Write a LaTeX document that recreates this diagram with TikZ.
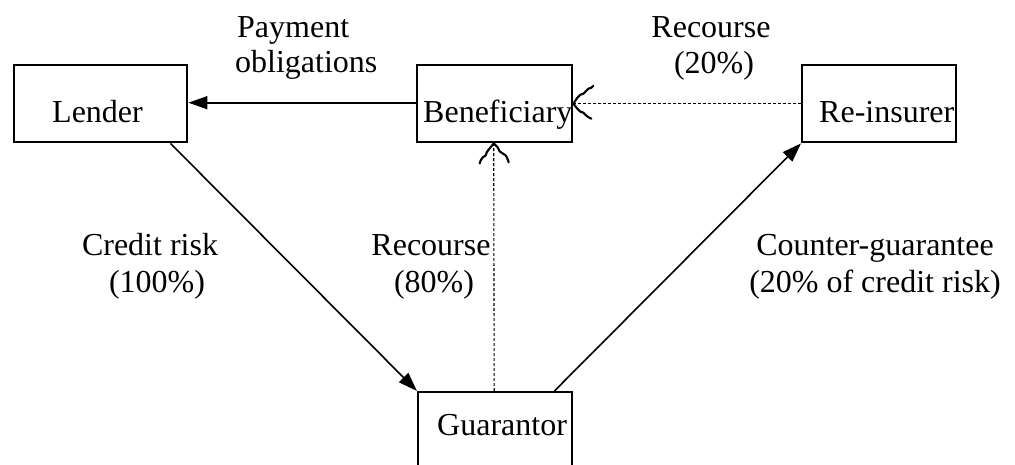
\documentclass[tikz,border=0pt]{standalone}
\usepackage{fontspec}
\setmainfont{Liberation Serif}
\usetikzlibrary{arrows.meta,calc}
\begin{document}
\begin{tikzpicture}[x=1pt,y=-1pt,
  box/.style={draw,line width=2.4pt,inner sep=0pt,minimum width=#1,minimum height=77pt},
  txt/.style={font=\fontsize{32pt}{36pt}\selectfont,inner sep=0pt},
  solidarrow/.style={line width=1.6pt,-{Triangle[length=19pt,width=13pt]}},
  dotline/.style={line width=1.1pt,dash pattern=on 3pt off 2pt},
  wavy/.style={line width=2.1pt,line cap=round,line join=round}]
\clip (0,0) rectangle (1015,464);
\useasboundingbox (0,0) rectangle (1015,464);
% box texts
\node[txt,anchor=base west] (tlender) at (52,122) {Lender};
\node[txt,anchor=base west] (tben) at (423,122) {Beneficiary};
\node[txt,anchor=base west] (trein) at (819,122) {Re-insurer};
\node[txt,anchor=base west] (tguar) at (437,435) {Guarantor};
% boxes
\node[box=173pt,anchor=north west] (lender) at (13,64) {};
\node[box=155pt,anchor=north west] (ben) at (416,64) {};
\node[box=154pt,anchor=north west] (rein) at (801,64) {};
\node[box=154pt,anchor=north west] (guar) at (417,391) {};
% labels
\node[txt,anchor=base west] (l1a) at (237,37) {Payment};
\node[txt,anchor=base west] (l1b) at (235,72) {obligations};
\node[txt,anchor=base] (l2a) at (711,37) {Recourse};
\node[txt,anchor=base] (l2b) at (714,73) {(20\%)};
\node[txt,anchor=base] (l3a) at (150,255) {Credit risk};
\node[txt,anchor=base] (l3b) at (157,292) {(100\%)};
\node[txt,anchor=base] (l4a) at (431,255) {Recourse};
\node[txt,anchor=base] (l4b) at (434,292) {(80\%)};
\node[txt,anchor=base] (l5a) at (875,255) {Counter-guarantee};
\node[txt,anchor=base] (l5b) at (875,292) {(20\% of credit risk)};
% connectors
\draw[solidarrow] ($(ben.west)+(0,-1)$) -- ($(lender.east)+(0,-1)$);
\draw[solidarrow] ($(lender.south east)+(-18,0)$) -- (guar.north west);
\draw[solidarrow] ($(guar.north east)+(-19,0)$) -- (rein.south west);
\draw[dotline] (rein.west) -- (ben.east);
\draw[dotline] ($(guar.north)+(-1,0)$) -- ($(ben.south)+(-1,0)$);
% wavy heads
\draw[wavy] plot[smooth,tension=0.6] coordinates {($(ben.east)$) ($(ben.east)+(4,-6)$) ($(ben.east)+(7,-9)$) ($(ben.east)+(10,-10)$) ($(ben.east)+(13,-13)$) ($(ben.east)+(15,-15)$) ($(ben.east)+(18,-16)$) ($(ben.east)+(20,-18)$)};
\draw[wavy] plot[smooth,tension=0.6] coordinates {($(ben.east)$) ($(ben.east)+(4,5)$) ($(ben.east)+(7,8)$) ($(ben.east)+(10,9)$) ($(ben.east)+(13,12)$) ($(ben.east)+(16,14)$) ($(ben.east)+(18,15)$)};
\draw[wavy] plot[smooth,tension=0.6] coordinates {($(ben.south)+(-1,0)$) ($(ben.south)+(-5,5)$) ($(ben.south)+(-8,9)$) ($(ben.south)+(-9,12)$) ($(ben.south)+(-12,14)$) ($(ben.south)+(-14,17)$) ($(ben.south)+(-15,20)$)};
\draw[wavy] plot[smooth,tension=0.6] coordinates {($(ben.south)+(-1,0)$) ($(ben.south)+(3,4)$) ($(ben.south)+(5,8)$) ($(ben.south)+(8,10)$) ($(ben.south)+(11,12)$) ($(ben.south)+(13,16)$) ($(ben.south)+(14,19)$)};
\end{tikzpicture}
\end{document}
